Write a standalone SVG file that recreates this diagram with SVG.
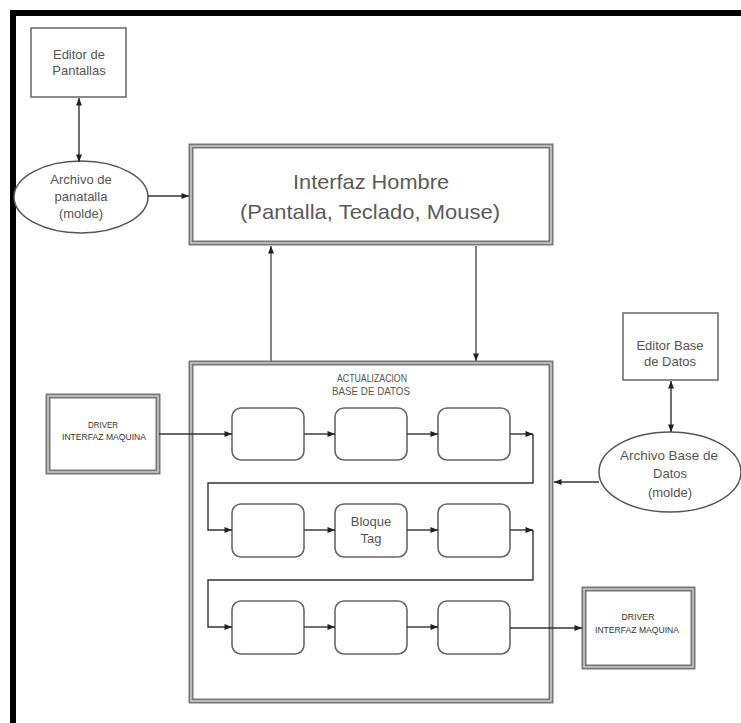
<svg xmlns="http://www.w3.org/2000/svg" width="741" height="723" viewBox="0 0 741 723">
  <defs>
    <marker id="arr" viewBox="0 0 10 8" refX="10" refY="4" markerWidth="8" markerHeight="6" orient="auto-start-reverse" markerUnits="userSpaceOnUse">
      <path d="M0,0 L10,4 L0,8 z" fill="#222"/>
    </marker>
    <style>
      .frame { fill: #000; }
      .box { fill: #fff; stroke: #666; stroke-width: 1.5; }
      .dbl-out { fill: #fff; stroke: #777; stroke-width: 5; }
      .dbl-in { fill: none; stroke: #c8c8c8; stroke-width: 1.6; }
      .blk { fill: #fff; stroke: #666; stroke-width: 1.6; }
      .ell { fill: #fff; stroke: #555; stroke-width: 1.5; }
      .line { fill: none; stroke: #333; stroke-width: 1.4; }
      .lineg { fill: none; stroke: #777; stroke-width: 1.8; }
      text { font-family: "Liberation Sans", Arial, sans-serif; fill: #555; text-anchor: middle; }
      .t13 { font-size: 13px; }
      .t21 { font-size: 21px; fill: #5a5a5a; }
      .tsm { font-size: 11px; }
      .tdr { font-size: 8.5px; fill: #333; }
    </style>
  </defs>

  <!-- page frame: top and left rules -->
  <rect class="frame" x="10" y="10" width="731" height="6"/>
  <rect class="frame" x="10" y="10" width="6" height="713"/>

  <g id="editor-pantallas">
    <rect class="box" x="31" y="28" width="95" height="69"/>
    <text class="t13" x="79" y="59">Editor de</text>
    <text class="t13" x="79" y="75">Pantallas</text>
  </g>

  <g id="archivo-pantalla">
    <ellipse class="ell" cx="81" cy="197" rx="67" ry="36"/>
    <text class="t13" x="81" y="184">Archivo de</text>
    <text class="t13" x="81" y="201">panatalla</text>
    <text class="t13" x="81" y="218">(molde)</text>
  </g>

  <g id="interfaz-hombre">
    <rect class="dbl-out" x="191" y="146" width="360" height="97"/>
    <rect class="dbl-in" x="191" y="146" width="360" height="97"/>
    <text class="t21" x="371" y="189" textLength="156" lengthAdjust="spacingAndGlyphs">Interfaz Hombre</text>
    <text class="t21" x="370" y="219" textLength="260" lengthAdjust="spacingAndGlyphs">(Pantalla, Teclado, Mouse)</text>
  </g>

  <g id="actualizacion">
    <rect class="dbl-out" x="191" y="363" width="360" height="338"/>
    <rect class="dbl-in" x="191" y="363" width="360" height="338"/>
    <text class="tsm" x="372" y="382" textLength="70" lengthAdjust="spacingAndGlyphs">ACTUALIZACION</text>
    <text class="tsm" x="371" y="395" textLength="78" lengthAdjust="spacingAndGlyphs">BASE DE DATOS</text>
  </g>

  <g id="bloques">
    <rect class="blk" x="232" y="408" width="72" height="52" rx="9"/>
    <rect class="blk" x="335" y="408" width="72" height="52" rx="9"/>
    <rect class="blk" x="438" y="408" width="72" height="52" rx="9"/>
    <rect class="blk" x="232" y="504" width="72" height="53" rx="9"/>
    <rect class="blk" x="335" y="504" width="72" height="53" rx="9"/>
    <rect class="blk" x="438" y="504" width="72" height="53" rx="9"/>
    <rect class="blk" x="232" y="601" width="72" height="53" rx="9"/>
    <rect class="blk" x="335" y="601" width="72" height="53" rx="9"/>
    <rect class="blk" x="438" y="601" width="72" height="53" rx="9"/>
    <text class="t13" x="371" y="526">Bloque</text>
    <text class="t13" x="371" y="543">Tag</text>
  </g>

  <g id="driver-izq">
    <rect class="dbl-out" x="48" y="396" width="110" height="76"/>
    <rect class="dbl-in" x="48" y="396" width="110" height="76"/>
    <text class="tdr" x="103" y="428" textLength="30" lengthAdjust="spacingAndGlyphs">DRIVER</text>
    <text class="tdr" x="104" y="440" textLength="84" lengthAdjust="spacingAndGlyphs">INTERFAZ MAQUINA</text>
  </g>

  <g id="driver-der">
    <rect class="dbl-out" x="584" y="589" width="109" height="78"/>
    <rect class="dbl-in" x="584" y="589" width="109" height="78"/>
    <text class="tdr" x="638" y="620" textLength="33" lengthAdjust="spacingAndGlyphs">DRIVER</text>
    <text class="tdr" x="637" y="633" textLength="84" lengthAdjust="spacingAndGlyphs">INTERFAZ MAQUINA</text>
  </g>

  <g id="editor-base-datos">
    <rect class="box" x="623" y="313" width="95" height="67"/>
    <text class="t13" x="670" y="350">Editor Base</text>
    <text class="t13" x="670" y="366">de Datos</text>
  </g>

  <g id="archivo-base-datos">
    <ellipse class="ell" cx="670" cy="472" rx="71" ry="40"/>
    <text class="t13" x="669" y="460" textLength="98" lengthAdjust="spacingAndGlyphs">Archivo Base de</text>
    <text class="t13" x="670" y="478">Datos</text>
    <text class="t13" x="670" y="497">(molde)</text>
  </g>

  <!-- connectors, drawn over the container box -->
  <g id="connectors">
    <line class="line" x1="79" y1="98" x2="79" y2="162" marker-start="url(#arr)" marker-end="url(#arr)"/>
    <line class="line" x1="148" y1="196" x2="189" y2="196" marker-end="url(#arr)"/>
    <line class="lineg" x1="271" y1="361" x2="271" y2="246" marker-end="url(#arr)"/>
    <line class="lineg" x1="476" y1="246" x2="476" y2="361" marker-end="url(#arr)"/>
    <line class="line" x1="671" y1="381" x2="671" y2="432" marker-start="url(#arr)" marker-end="url(#arr)"/>
    <line class="line" x1="599" y1="482" x2="554" y2="482" marker-end="url(#arr)"/>
    <!-- row 1 -->
    <line class="line" x1="159" y1="434" x2="232" y2="434" marker-end="url(#arr)"/>
    <line class="line" x1="304" y1="434" x2="335" y2="434" marker-end="url(#arr)"/>
    <line class="line" x1="407" y1="434" x2="438" y2="434" marker-end="url(#arr)"/>
    <line class="line" x1="510" y1="434" x2="533" y2="434" marker-end="url(#arr)"/>
    <polyline class="line" points="533,434 533,483 208,483 208,530 232,530" marker-end="url(#arr)"/>
    <!-- row 2 -->
    <line class="line" x1="304" y1="530" x2="335" y2="530" marker-end="url(#arr)"/>
    <line class="line" x1="407" y1="530" x2="438" y2="530" marker-end="url(#arr)"/>
    <line class="line" x1="510" y1="530" x2="533" y2="530" marker-end="url(#arr)"/>
    <polyline class="line" points="533,530 533,580 208,580 208,627 232,627" marker-end="url(#arr)"/>
    <!-- row 3 -->
    <line class="line" x1="304" y1="627" x2="335" y2="627" marker-end="url(#arr)"/>
    <line class="line" x1="407" y1="627" x2="438" y2="627" marker-end="url(#arr)"/>
    <line class="line" x1="510" y1="628" x2="582" y2="628" marker-end="url(#arr)"/>
  </g>
</svg>
